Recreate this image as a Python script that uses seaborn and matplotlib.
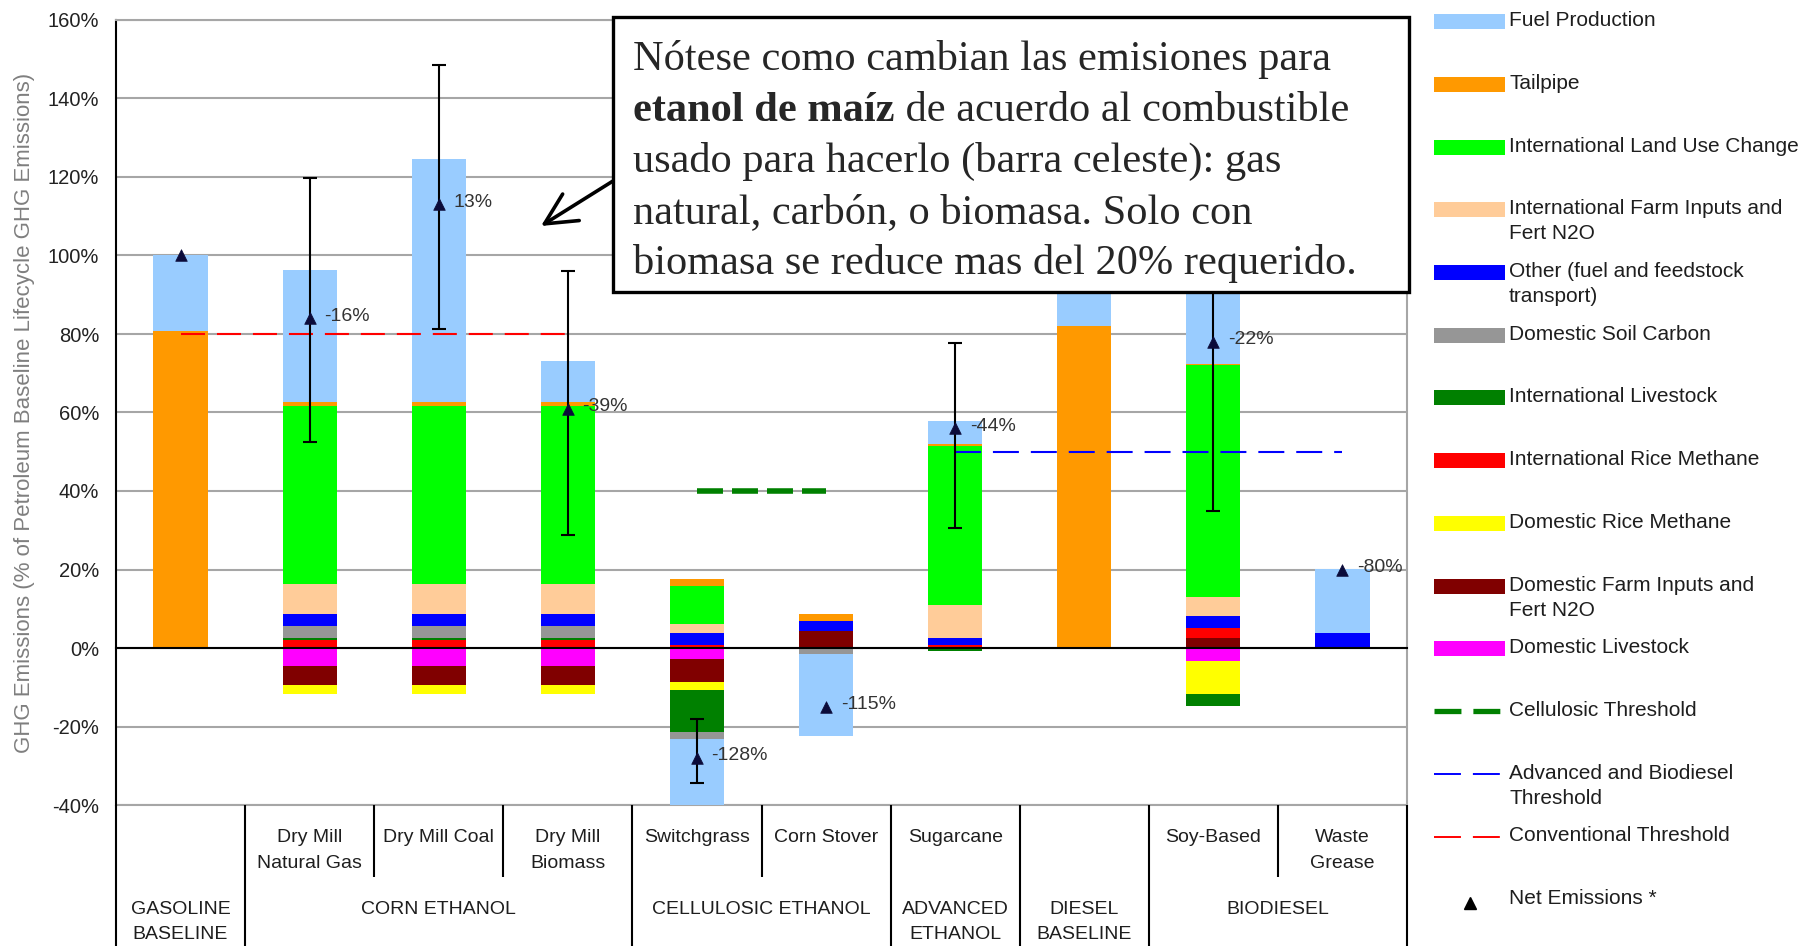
import numpy as np
import matplotlib
matplotlib.use("Agg")
import matplotlib.pyplot as plt
import matplotlib.transforms as mtrans
from matplotlib.patches import Rectangle, FancyArrowPatch
import seaborn as sns

# ---------------- data (values in % of petroleum baseline) ----------------
categories = ["GASOLINE BASELINE", "Dry Mill Natural Gas", "Dry Mill Coal", "Dry Mill Biomass",
              "Switchgrass", "Corn Stover", "Sugarcane", "DIESEL BASELINE", "Soy-Based", "Waste Grease"]
sub_labels = ["", "Dry Mill\nNatural Gas", "Dry Mill Coal", "Dry Mill\nBiomass", "Switchgrass",
              "Corn Stover", "Sugarcane", "", "Soy-Based", "Waste\nGrease"]
group_labels = ["GASOLINE\nBASELINE", "CORN ETHANOL", "CELLULOSIC ETHANOL", "ADVANCED\nETHANOL",
                "DIESEL\nBASELINE", "BIODIESEL"]
group_first = [0, 1, 4, 6, 7, 8]
group_last = [0, 3, 5, 6, 7, 9]

# positive components, stacked upward from 0 (bottom -> top)
dom_farm_inputs_pos = [0, 0, 0, 0, 0, 4.4, 0, 0, 2.5, 0]
intl_rice_methane = [0, 2.1, 2.1, 2.1, 0.8, 0, 0.7, 0, 2.6, 0]
intl_livestock_pos = [0, 0.5, 0.5, 0.5, 0, 0, 0, 0, 0, 0]
dom_soil_carbon_pos = [0, 3.1, 3.1, 3.1, 0, 0, 0, 0, 0, 0]
other_transport = [0, 3.0, 3.0, 3.0, 3.0, 2.4, 1.9, 0, 3.0, 3.8]
intl_farm_inputs = [0, 7.7, 7.7, 7.7, 2.3, 0, 8.4, 0, 4.8, 0]
intl_land_use = [0, 45.2, 45.2, 45.2, 9.7, 0, 40.5, 0, 59.2, 0]
tailpipe = [80.7, 1.1, 1.1, 1.1, 1.8, 1.9, 0.4, 82.0, 0.3, 0]
fuel_production_pos = [19.3, 33.7, 61.8, 10.3, 0, 0, 5.9, 18.0, 20.4, 16.4]

# negative components, stacked downward from 0 (top -> bottom)
dom_livestock = [0, -4.6, -4.6, -4.6, -2.8, 0, 0, 0, -3.3, 0]
dom_farm_inputs_neg = [0, -4.75, -4.75, -4.75, -5.85, 0, 0, 0, 0, 0]
dom_rice_methane = [0, -2.4, -2.4, -2.4, -1.95, 0, 0, 0, -8.4, 0]
intl_livestock_neg = [0, 0, 0, 0, -10.8, 0, -0.85, 0, -3.05, 0]
dom_soil_carbon_neg = [0, 0, 0, 0, -1.9, -1.5, 0, 0, 0, 0]
fuel_production_neg = [0, 0, 0, 0, -17.2, -21.0, 0, 0, 0, 0]

net_emissions = [100, 84, 113, 61, -28, -15, 56, 100, 78, 20]
net_labels = ["", "-16%", "13%", "-39%", "-128%", "-115%", "-44%", "", "-22%", "-80%"]
err_low = [np.nan, 52.4, 81.2, 28.7, -34.4, np.nan, 30.6, np.nan, 34.9, np.nan]
err_high = [np.nan, 119.8, 148.6, 96.0, -18.2, np.nan, 77.6, np.nan, 121.0, np.nan]

conventional_threshold = 80      # Gasoline .. Dry Mill Biomass
cellulosic_threshold = 40        # Switchgrass .. Corn Stover
advanced_threshold = 50          # Sugarcane .. Waste Grease
y_ticks = [-40, -20, 0, 20, 40, 60, 80, 100, 120, 140, 160]

note_lines = ["Nótese como cambian las emisiones para",
              "**etanol de maíz** de acuerdo al combustible",
              "usado para hacerlo (barra celeste): gas",
              "natural, carbón, o biomasa. Solo con",
              "biomasa se reduce mas del 20% requerido."]

# ---------------- colours ----------------
c_fp, c_tail, c_iluc, c_ifi = "#99CCFF", "#FF9900", "#00FF00", "#FFCC99"
c_other, c_dsc, c_il, c_irm = "#0000FF", "#969696", "#008000", "#FF0000"
c_drm, c_dfi, c_dl = "#FFFF00", "#800000", "#FF00FF"
grid_c = "#a6a6a6"
tri_c = "#0b0b3a"

pos_components = [dom_farm_inputs_pos, intl_rice_methane, intl_livestock_pos, dom_soil_carbon_pos,
                  other_transport, intl_farm_inputs, intl_land_use, tailpipe, fuel_production_pos]
pos_colors = [c_dfi, c_irm, c_il, c_dsc, c_other, c_ifi, c_iluc, c_tail, c_fp]
neg_components = [dom_livestock, dom_farm_inputs_neg, dom_rice_methane, intl_livestock_neg,
                  dom_soil_carbon_neg, fuel_production_neg]
neg_colors = [c_dl, c_dfi, c_drm, c_il, c_dsc, c_fp]

legend_items = [
    ("Fuel Production", "patch", c_fp),
    ("Tailpipe", "patch", c_tail),
    ("International Land Use Change", "patch", c_iluc),
    ("International Farm Inputs and\nFert N2O", "patch", c_ifi),
    ("Other (fuel and feedstock\ntransport)", "patch", c_other),
    ("Domestic Soil Carbon", "patch", c_dsc),
    ("International Livestock", "patch", c_il),
    ("International Rice Methane", "patch", c_irm),
    ("Domestic Rice Methane", "patch", c_drm),
    ("Domestic Farm Inputs and\nFert N2O", "patch", c_dfi),
    ("Domestic Livestock", "patch", c_dl),
    ("Cellulosic Threshold", "thick", c_il),
    ("Advanced and Biodiesel\nThreshold", "thin", c_other),
    ("Conventional Threshold", "thin", c_irm),
    ("Net Emissions *", "marker", "black"),
]

# ---------------- figure ----------------
sns.set_style("white")
plt.rcParams["font.family"] = ["Liberation Sans", "DejaVu Sans"]
plt.rcParams["lines.scale_dashes"] = False

W, H, DPI = 1810, 946, 100
fig = plt.figure(figsize=(W / DPI, H / DPI), dpi=DPI)
fig.patch.set_facecolor("white")
ax = fig.add_axes([116 / W, 1 - 805 / H, (1407 - 116) / W, (805 - 20) / H])

n = len(categories)
xpos = np.arange(n)


def draw_stack(components, colors):
    bottom = np.zeros(n)
    for vals, col in zip(components, colors):
        vals = np.asarray(vals, dtype=float)
        sns.barplot(x=xpos, y=vals, native_scale=True, orient="x", color=col, saturation=1,
                    width=0.42, errorbar=None, bottom=bottom.copy(), linewidth=0, ax=ax, zorder=2)
        bottom += vals


draw_stack(pos_components, pos_colors)
draw_stack(neg_components, neg_colors)

# thresholds
ax.plot([xpos[0], xpos[3]], [conventional_threshold] * 2, color=c_irm, lw=1.5,
        dashes=(17.3, 8.6), zorder=3)
ax.plot([xpos[4], xpos[5]], [cellulosic_threshold] * 2, color=c_il, lw=4,
        dashes=(18.7, 6.5), zorder=3)
ax.plot([xpos[6], xpos[9]], [advanced_threshold] * 2, color=c_other, lw=1.5,
        dashes=(18.7, 8.6), zorder=3)

# error bars
net = np.asarray(net_emissions, float)
lo = np.asarray(err_low, float)
hi = np.asarray(err_high, float)
m = ~np.isnan(lo)
ax.errorbar(xpos[m], net[m], yerr=[net[m] - lo[m], hi[m] - net[m]], fmt="none", ecolor="black",
            elinewidth=1.5, capsize=5, capthick=1.5, zorder=4)

# net emission markers
sns.scatterplot(x=xpos, y=net, marker="^", s=70, color=tri_c, edgecolor=tri_c, linewidth=0.5,
                ax=ax, zorder=5, legend=False)
for i, lbl in enumerate(net_labels):
    if lbl:
        ax.annotate(lbl, (xpos[i], net[i]), xytext=(10.5, 1.5), textcoords="offset points",
                    ha="left", va="center", fontsize=14, color="#333333", zorder=6)

# axes styling
ax.set_xlim(-0.5, n - 0.5)
ax.set_ylim(y_ticks[0], y_ticks[-1])
ax.set_yticks(y_ticks)
ax.set_yticklabels([f"{t}%" for t in y_ticks], fontsize=14.5, color="#222222")
ax.tick_params(axis="y", direction="out", length=5, width=1.3, color="black", pad=7)
ax.set_xticks(xpos)
ax.tick_params(axis="x", which="major", length=0, labelbottom=False)
ax.set_xticks(np.arange(n + 1) - 0.5, minor=True)
ax.tick_params(axis="x", which="minor", direction="out", length=6.5, width=1.5, color="black",
               labelbottom=False)
ax.set_xlabel("")
ax.grid(axis="y", color=grid_c, lw=1.5)
ax.grid(axis="x", visible=False)
ax.set_axisbelow(True)
ax.spines["bottom"].set_position(("data", 0))
ax.spines["bottom"].set_color("black")
ax.spines["bottom"].set_linewidth(1.5)
ax.spines["left"].set_color("black")
ax.spines["left"].set_linewidth(1.5)
for s in ("top", "right"):
    ax.spines[s].set_visible(True)
    ax.spines[s].set_color(grid_c)
    ax.spines[s].set_linewidth(1.5)
ax.axhline(y_ticks[0], color=grid_c, lw=1.5, clip_on=False, zorder=0.5)
ax.set_ylabel("GHG Emissions (% of Petroleum Baseline Lifecycle GHG Emissions)", fontsize=16,
              color="#7f7f7f", va="center")
ax.yaxis.set_label_coords(-0.0705, 0.5)

# ---------------- overlay in pixel coordinates ----------------
ov = fig.add_axes([0, 0, 1, 1])
ov.set_xlim(0, W)
ov.set_ylim(H, 0)
ov.axis("off")
ov.set_zorder(5)
trans = mtrans.blended_transform_factory(ax.transData, ov.transData)

# category table below the plot
group_bounds = sorted(set([g - 0.5 for g in group_first] + [n - 0.5]))
for b in group_bounds:
    ov.plot([b, b], [805, H], color="black", lw=1.5, transform=trans, solid_capstyle="butt")
for f, l in zip(group_first, group_last):
    for b in np.arange(f, l) + 0.5:
        ov.plot([b, b], [805, 877], color="black", lw=1.5, transform=trans, solid_capstyle="butt")

txt_kw = dict(ha="center", va="baseline", fontsize=14, color="#1e1e1e", transform=trans)
for i, lab in enumerate(sub_labels):
    for j, line in enumerate(lab.split("\n")):
        if line:
            ov.text(xpos[i], 842 + 26 * j, line, **txt_kw)
for lab, f, l in zip(group_labels, group_first, group_last):
    xc = (xpos[f] + xpos[l]) / 2
    for j, line in enumerate(lab.split("\n")):
        ov.text(xc, 914 + 25 * j, line, **txt_kw)

# legend
lx0, lx1, ltx = 1434, 1505, 1509
ly0, ldy = 21.7, 62.7
for k, (lab, kind, col) in enumerate(legend_items):
    yc = ly0 + ldy * k
    if kind == "patch":
        ov.add_patch(Rectangle((lx0, yc - 7.5), lx1 - lx0, 15, facecolor=col, edgecolor="none"))
    elif kind == "thick":
        ov.plot([lx0, 1500], [yc, yc], color=col, lw=3.8, dashes=(19.4, 8.6))
    elif kind == "thin":
        ov.plot([lx0, 1500], [yc, yc], color=col, lw=1.4, dashes=(19.4, 8.6))
    else:
        ov.plot([1470], [yc + 3], marker="^", color=col, ms=8, lw=0)
    for j, line in enumerate(lab.split("\n")):
        ov.text(ltx, yc + 4.5 + 25 * j, line, ha="left", va="baseline", fontsize=15,
                color="#1e1e1e")

# note box with arrow
ov.add_patch(Rectangle((613, 17), 796, 275, facecolor="white", edgecolor="black", lw=2.4,
                       zorder=10))
ov.add_patch(FancyArrowPatch((613, 181), (541, 226), arrowstyle="->,head_length=0.9,head_width=0.45",
                             mutation_scale=25, lw=2.6, color="black", shrinkA=0, shrinkB=0,
                             zorder=9))
serif = ["Liberation Serif", "DejaVu Serif"]
for j, line in enumerate(note_lines):
    yb = 70 + 50.9 * j
    if "**" in line:
        _, bold, rest = line.split("**")
        tb = ov.text(633, yb, bold, family=serif, fontsize=30.5, fontweight="bold", ha="left",
                     va="baseline", zorder=11)
        ov.annotate(rest, xy=(1, 0), xycoords=tb, ha="left", va="bottom", family=serif,
                    fontsize=30.5, zorder=11)
    else:
        ov.text(633, yb, line, family=serif, fontsize=30.5, ha="left", va="baseline", zorder=11)

fig.savefig("out.png", dpi=DPI, facecolor="white")
